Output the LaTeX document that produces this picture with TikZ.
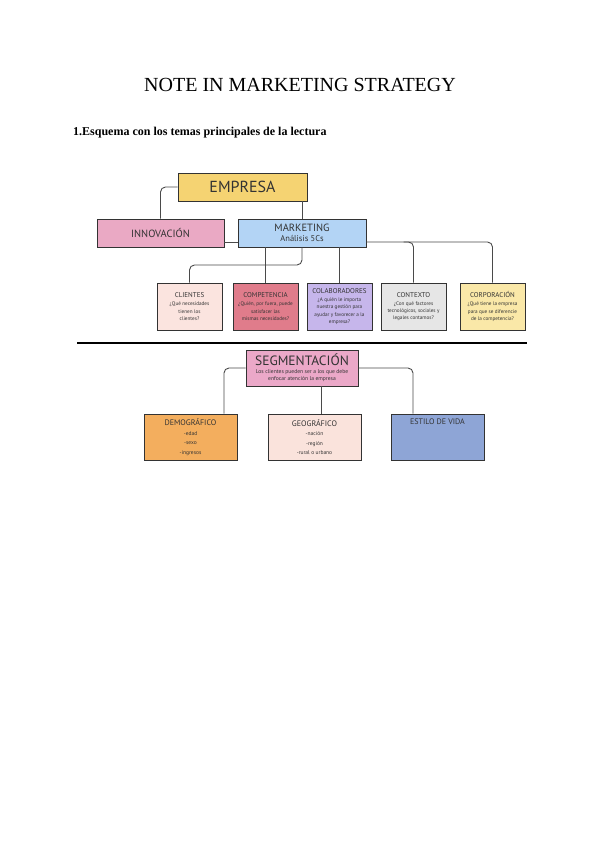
\documentclass[tikz,border=0pt]{standalone}
\usepackage{fontspec}
\setmainfont{Liberation Serif}
\newfontfamily\handfont{PT Sans}
\usetikzlibrary{calc}
\definecolor{ink}{HTML}{333333}
\definecolor{wire}{HTML}{4A4A4A}
\definecolor{empresa}{HTML}{F5D372}
\definecolor{innov}{HTML}{EAA9C4}
\definecolor{mkting}{HTML}{B3D4F5}
\definecolor{clien}{HTML}{FBE4DF}
\definecolor{compet}{HTML}{E07C8B}
\definecolor{colab}{HTML}{C6B6EB}
\definecolor{contx}{HTML}{E6E6E6}
\definecolor{corpo}{HTML}{FAE8A8}
\definecolor{segm}{HTML}{EBA8C8}
\definecolor{demog}{HTML}{F3AE5E}
\definecolor{geogr}{HTML}{FAE3DC}
\definecolor{estilo}{HTML}{8EA5D6}
\tikzset{
  box/.style={draw=ink,line width=0.8pt,align=flush center,inner sep=1pt,text=ink,font=\handfont},
  qcard/.style={box,inner sep=0.5pt,minimum width=65pt,minimum height=47pt,text width=64pt},
  segcard/.style={box,minimum width=93pt,minimum height=46pt,text width=89pt},
  link/.style={draw=wire,line width=0.9pt,rounded corners=5pt},
}
\newcommand{\qbox}[5]{%
  \node[qcard,fill=#3] (#1) at #2
       {\fontsize{7}{8.5}\selectfont #4\\[1pt]\fontsize{5.2}{7.2}\selectfont #5\par};
}

\begin{document}
\begin{tikzpicture}[x=1pt,y=-1pt]
  \useasboundingbox (0,0) rectangle (600,848);

  \node[font=\fontsize{20}{22}\selectfont] (title) at (300,85) {NOTE IN MARKETING STRATEGY};
  \node[font=\bfseries\fontsize{12}{14}\selectfont,anchor=west,inner sep=0pt] (sub) at (73,133)
       {1.Esquema con los temas principales de la lectura};

  % ---------------------------------------------------------------- 5Cs
  \node[box,fill=empresa,minimum width=129pt,minimum height=28pt,
        font=\handfont\fontsize{16}{18}\selectfont] (emp) at (242.5,187) {EMPRESA};
  \node[box,fill=innov,minimum width=127pt,minimum height=28pt,
        font=\handfont\fontsize{10.5}{12}\selectfont] (inn) at (160.5,233) {INNOVACIÓN};
  \node[box,fill=mkting,minimum width=128pt,minimum height=28pt,
        font=\handfont\fontsize{10.5}{10}\selectfont] (mkt) at (302,233)
       {MARKETING\\\fontsize{8.5}{9}\selectfont Análisis 5Cs\par};

  \qbox{cli}{(189.5,306.5)}{clien}{CLIENTES}{¿Qué necesidades\\tienen los\\clientes?}
  \qbox{cmp}{(265.5,306.5)}{compet}{COMPETENCIA}{¿Quién, por fuera, puede\\satisfacer las\\mismas necesidades?}
  \qbox{col}{(339.5,306.5)}{colab}{COLABORADORES}{¿A quién le importa\\nuestra gestión para\\ayudar y favorecer a la\\empresa?}
  \qbox{ctx}{(413.5,306.5)}{contx}{CONTEXTO}{¿Con qué factores\\tecnológicos, sociales y\\legales contamos?}
  \qbox{corp}{(492.5,306.5)}{corpo}{CORPORACIÓN}{¿Qué tiene la empresa\\para que se diferencie\\de la competencia?}

  \coordinate (elb) at (0,265);
  \coordinate (mk) at ([yshift=-9pt]mkt.east);
  \draw[link] (emp.west) -| (inn.north);
  \draw[link] (mkt.north) -- (mkt.north |- emp.south);
  \draw[link] ([yshift=-9pt]inn.east) -- ([yshift=-9pt]mkt.west);
  \draw[link] (mk) -| (corp.north);
  \draw[link] ($(mk -| ctx.north)+(-10,0)$) -| (ctx.north);
  \draw[link] (mkt.south) |- (cli.north |- elb) -- (cli.north);
  \draw[link] (cmp.north |- mkt.south) -- (cmp.north);
  \draw[link] (col.north |- mkt.south) -- (col.north);

  \draw[line width=1.6pt] (77,343) -- (527,343);

  % ---------------------------------------------------------------- segmentos
  \node[box,fill=segm,minimum width=112pt,minimum height=36pt,text width=110pt] (seg) at (302,368)
       {\fontsize{13.5}{14}\selectfont SEGMENTACIÓN\\[1pt]\fontsize{5.6}{7}\selectfont
        Los clientes pueden ser a los que debe\\enfocar atención la empresa\par};
  \node[segcard,fill=demog] (dem) at (190.5,437)
       {\fontsize{8}{9.5}\selectfont DEMOGRÁFICO\\\fontsize{5.5}{9.5}\selectfont -edad\\-sexo\\-ingresos\par};
  \node[segcard,fill=geogr] (geo) at (314.5,437)
       {\fontsize{8}{9.5}\selectfont GEOGRÁFICO\\\fontsize{5.5}{9.5}\selectfont -nación\\-región\\-rural o urbano\par};
  \node[segcard,fill=estilo,text depth=30pt] (sty) at (437.5,437)
       {\fontsize{8}{9.5}\selectfont ESTILO DE VIDA};

  \coordinate (gs) at ($(seg.south)+(19,0)$);
  \draw[link] (seg.west) -| ($(dem.north)+(33.5,0)$);
  \draw[link] (seg.east) -| ($(sty.north)+(-24.5,0)$);
  \draw[link] (gs) -- (gs |- geo.north);
\end{tikzpicture}
\end{document}
